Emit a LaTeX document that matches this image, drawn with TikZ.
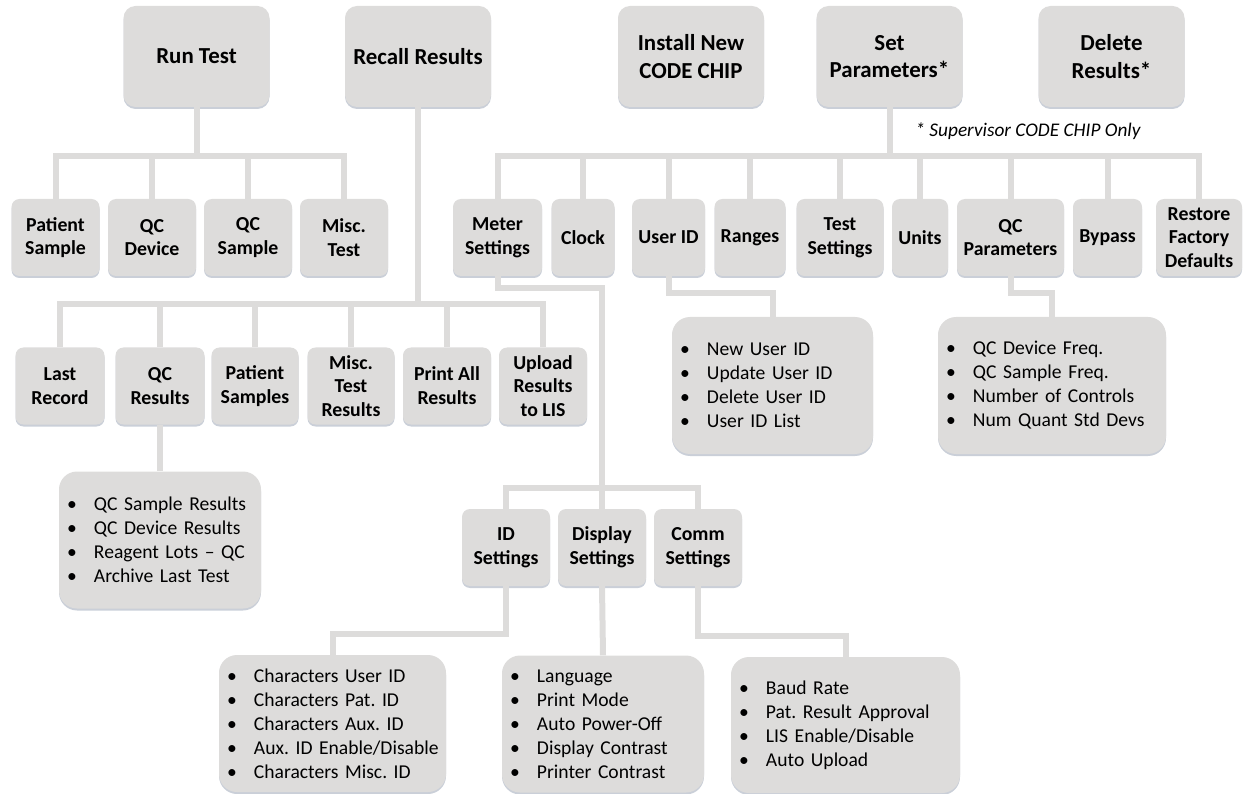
\documentclass[tikz,border=0pt]{standalone}
\usepackage{fontspec}
\setmainfont{Carlito}
\usetikzlibrary{shadows}
\definecolor{boxgray}{RGB}{221,220,219}
\definecolor{shadegray}{RGB}{202,207,216}
\newcommand{\itm}[1]{\makebox[27pt][l]{\textbullet}\mbox{#1}}
\frenchspacing

\begin{document}
\begin{tikzpicture}[x=1pt, y=-1pt,
    gbox/.style={fill=boxgray, text=black, align=center, inner sep=1pt,
      drop shadow={shadow xshift=0pt, shadow yshift=-2pt, fill=shadegray, opacity=1}},
    mainbox/.style={gbox, rounded corners=12pt, minimum width=146pt, minimum height=101pt,
      font=\fontsize{22.9pt}{27.7pt}\selectfont\bfseries},
    subbox/.style={gbox, rounded corners=8pt, minimum width=#1, minimum height=77pt,
      font=\fontsize{19.8pt}{23.8pt}\selectfont\bfseries},
    subbox/.default=88pt,
    listbox/.style={gbox, rounded corners=18pt, text width=#1, minimum height=137pt,
      align=left, inner xsep=8pt, font=\fontsize{19.6pt}{24pt}\selectfont},
    link/.style={draw=boxgray, line width=6pt}]

  \useasboundingbox (0,0) rectangle (1243,794);

  % main menu
  \node[mainbox] (runtest) at (196.5,56.5) {Run Test};
  \node[mainbox] (recall)  at (418,56.5)   {Recall Results};
  \node[mainbox] (install) at (691,56.5)   {Install New\\CODE CHIP};
  \node[mainbox] (setpar)  at (889.5,56.5) {Set\\Parameters*};
  \node[mainbox] (delete)  at (1111.5,56.5) {Delete\\Results*};
  \node[font=\fontsize{19.3pt}{23pt}\selectfont\itshape] (supnote) at (1028,131)
    {* Supervisor CODE CHIP Only};

  % Run Test
  \node[subbox] (psamp)  at (55.5,237.5) {Patient\\Sample};
  \node[subbox] (qcdev)  at (152,237.5)  {QC\\Device};
  \node[subbox] (qcsamp) at (248,237.5)  {QC\\Sample};
  \node[subbox] (misct)  at (344,237.5)  {Misc.\\Test};

  % Recall Results
  \node[subbox=89pt] (lastrec)  at (60,386)  {Last\\Record};
  \node[subbox=89pt] (qcres)    at (160,386) {QC\\Results};
  \node[subbox=87pt] (patsamp)  at (255,386) {Patient\\Samples};
  \node[subbox=87pt] (miscres)  at (351,386) {Misc.\\Test\\Results};
  \node[subbox=88pt] (printall) at (447,386) {Print All\\Results};
  \node[subbox=88pt] (upload)   at (543,386) {Upload\\Results\\to LIS};
  \node[listbox=186pt] (qclist) at (160,540)
    {\itm{QC Sample Results}\\ \itm{QC Device Results}\\ \itm{Reagent Lots -- QC}\\ \itm{Archive Last Test}};

  % Set Parameters
  \node[subbox=89pt]  (meter)   at (497.5,237.5)  {Meter\\Settings};
  \node[subbox=63pt]  (clock)   at (583,237.5)    {Clock};
  \node[subbox=73pt]  (userid)  at (668.5,237.5)  {User ID};
  \node[subbox=71pt]  (ranges)  at (750,237.5)    {Ranges};
  \node[subbox=87pt]  (testset) at (840,237.5)    {Test\\Settings};
  \node[subbox=56pt]  (units)   at (920,237.5)    {Units};
  \node[subbox=107pt] (qcpar)   at (1010.5,237.5) {QC\\Parameters};
  \node[subbox=69pt]  (bypass)  at (1107.5,237.5) {Bypass};
  \node[subbox=86pt]  (restore) at (1199,237.5)   {Restore\\Factory\\Defaults};
  \node[listbox=185pt] (ulist) at (772.5,385.5)
    {\itm{New User ID}\\ \itm{Update User ID}\\ \itm{Delete User ID}\\ \itm{User ID List}};
  \node[listbox=212pt] (qplist) at (1052,385.5)
    {\itm{QC Device Freq.}\\ \itm{QC Sample Freq.}\\ \itm{Number of Controls}\\ \itm{Num Quant Std Devs}};

  % Meter Settings
  \node[subbox] (idset)   at (506,547.5) {ID\\Settings};
  \node[subbox] (dispset) at (602,547.5) {Display\\Settings};
  \node[subbox] (commset) at (698,547.5) {Comm\\Settings};
  \node[listbox=211pt] (idlist) at (332.5,723.5)
    {\itm{Characters User ID}\\ \itm{Characters Pat. ID}\\ \itm{Characters Aux. ID}\\ \itm{Aux. ID Enable/Disable}\\ \itm{Characters Misc. ID}};
  \node[listbox=186pt] (displist) at (603,724)
    {\itm{Language}\\ \itm{Print Mode}\\ \itm{Auto Power-Off}\\ \itm{Display Contrast}\\ \itm{Printer Contrast}};
  \node[listbox=213pt, minimum height=136pt] (commlist) at (845.5,725)
    {\itm{Baud Rate}\\ \itm{Pat. Result Approval}\\ \itm{LIS Enable/Disable}\\ \itm{Auto Upload}};

  % connectors
  \coordinate (rtbar) at (196.5,156);
  \draw[link] (runtest.south) -- (rtbar);
  \foreach \n in {psamp,qcdev,qcsamp,misct}
    \draw[link] (rtbar) -| (\n.north);

  \coordinate (rcbar) at (418,304);
  \draw[link] (recall.south) -- (rcbar);
  \foreach \n in {lastrec,qcres,patsamp,miscres,printall,upload}
    \draw[link] (rcbar) -| (\n.north);
  \draw[link] (qcres.south) -- (qclist.north);

  \coordinate (spbar) at (889.5,156);
  \draw[link] (setpar.south) -- (spbar);
  \foreach \n in {meter,clock,userid,ranges,testset,units,qcpar,bypass,restore}
    \draw[link] (spbar) -| (\n.north);
  \draw[link] (userid.south) -- ++(0,17) -| (ulist.north);
  \draw[link] (qcpar.south) -- ++(0,17) -| (qplist.north);

  \coordinate (msbar) at (602,488);
  \draw[link] (meter.south) -- ++(0,12) -| (msbar);
  \draw[link] (msbar) -- (dispset.north);
  \foreach \n in {idset,commset}
    \draw[link] (msbar) -| (\n.north);
  \draw[link] (idset.south) -- ++(0,48) -| (idlist.north);
  \draw[link] (dispset.south) -- (displist.north);
  \draw[link] (commset.south) -- ++(0,50) -| (commlist.north);
\end{tikzpicture}
\end{document}
